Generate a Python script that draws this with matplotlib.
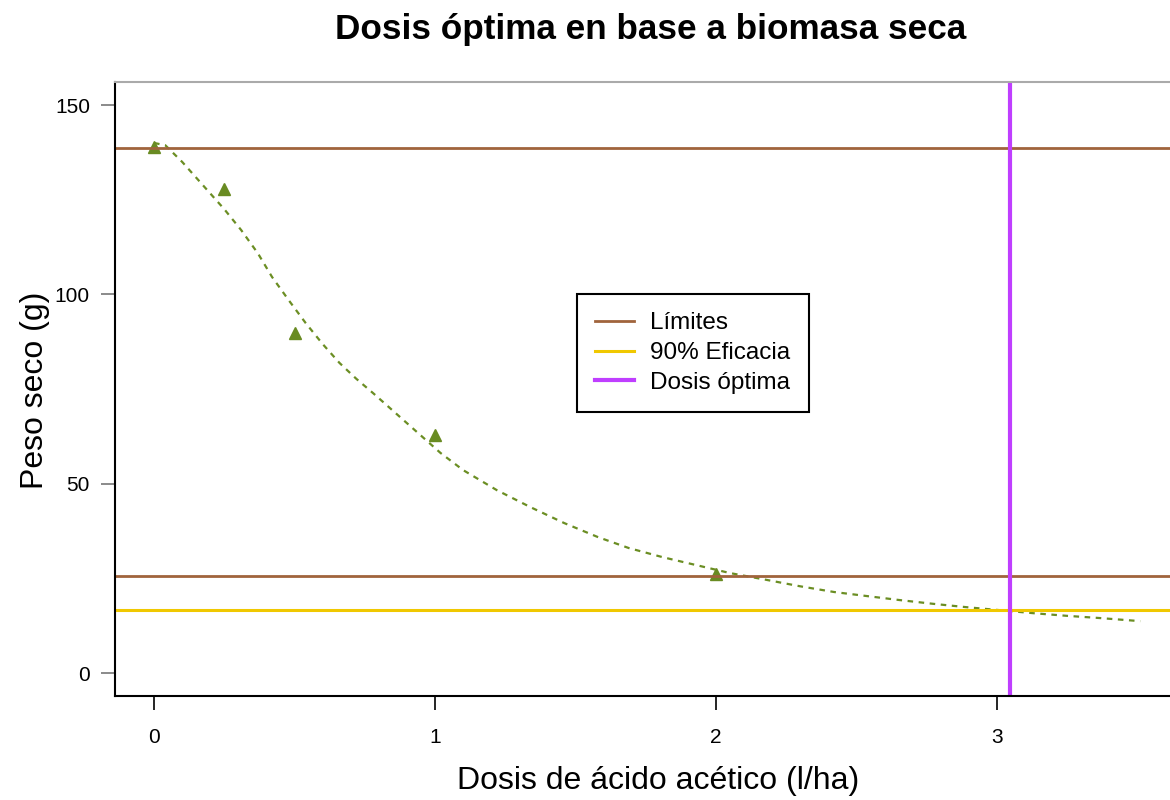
import matplotlib
matplotlib.use('Agg')
import matplotlib.pyplot as plt

plt.rcParams['font.family'] = ['Liberation Sans', 'DejaVu Sans']

# observed data (dosis l/ha, peso seco g)
dosis = [0, 0.25, 0.5, 1, 2]
peso = [139, 127.8, 89.8, 62.8, 26.1]

# fitted curve
curva_x = [0, 0.04, 0.1, 0.19, 0.25, 0.31, 0.37, 0.42, 0.48, 0.54, 0.6, 0.66, 0.72, 0.78,
           0.9, 1.02, 1.1, 1.22, 1.34, 1.46, 1.58, 1.69, 1.81, 1.93, 2.05, 2.18, 2.3,
           2.42, 2.54, 2.65, 2.77, 2.89, 3.01, 3.13, 3.25, 3.37, 3.51]
curva_y = [140, 139.4, 135, 127.5, 122.5, 117, 110.8, 104.6, 98.4, 92.4, 86.9, 81.9, 77.7, 73.9,
           66, 58.1, 53.6, 48.3, 43.8, 39.6, 35.9, 33, 30.6, 28.5, 26.4, 24.6, 22.9,
           21.4, 20.3, 19.3, 18.3, 17.4, 16.6, 15.8, 15.1, 14.5, 13.7]

limites = [138.6, 25.7]
eficacia_90 = 16.6
dosis_optima = 3.045

fig = plt.figure(figsize=(11.7, 8), dpi=100)
ax = fig.add_axes([115/1170, 1 - 696/800, 1 - 115/1170, (696 - 82)/800])

ax.plot(curva_x, curva_y, linestyle=(0, (2.5, 2.5)), color='#6B8E23', linewidth=1.6)
ax.plot(dosis, peso, marker='^', linestyle='none', color='#698B22', markersize=8.5)

for i, v in enumerate(limites):
    ax.axhline(v, color='#A0643C', linewidth=2, label='Límites' if i == 0 else None)
ax.axhline(eficacia_90, color='#F0C800', linewidth=2.2, label='90% Eficacia')
ax.axvline(dosis_optima, color='#BF3EFF', linewidth=3, label='Dosis óptima')

ax.set_xlim(-0.139, 3.616)
ax.set_ylim(-6.07, 156.1)
ax.set_xticks([0, 1, 2, 3])
ax.set_yticks([0, 50, 100, 150])

ax.spines['right'].set_visible(False)
ax.spines['top'].set_color('#aaaaaa')
ax.spines['top'].set_linewidth(1.5)
ax.spines['left'].set_linewidth(1.5)
ax.spines['bottom'].set_linewidth(1.5)
ax.tick_params(axis='x', length=10, width=1.2, labelsize=15, pad=13)
ax.tick_params(axis='y', length=10, width=1.2, color='#777777', labelsize=15, pad=8)

fig.text(658/1170, 1 - 781/800, 'Dosis de ácido acético (l/ha)', fontsize=23,
         ha='center', va='center')
fig.text(35/1170, 1 - 390/800, 'Peso seco (g)', fontsize=23, rotation=90,
         ha='center', va='center')
fig.text(651/1170, 1 - 30/800, 'Dosis óptima en base a biomasa seca', fontsize=25.3,
         fontweight='bold', ha='center', va='center')

leg = ax.legend(loc='upper left', bbox_to_anchor=((577 - 115)/1055, (696 - 294)/614),
                borderaxespad=0, fontsize=17.5, fancybox=False, framealpha=1,
                edgecolor='black', handlelength=1.6, handletextpad=0.66,
                borderpad=0.75, labelspacing=0.32)
leg.get_frame().set_linewidth(1.5)

fig.savefig('out.png', dpi=100)
